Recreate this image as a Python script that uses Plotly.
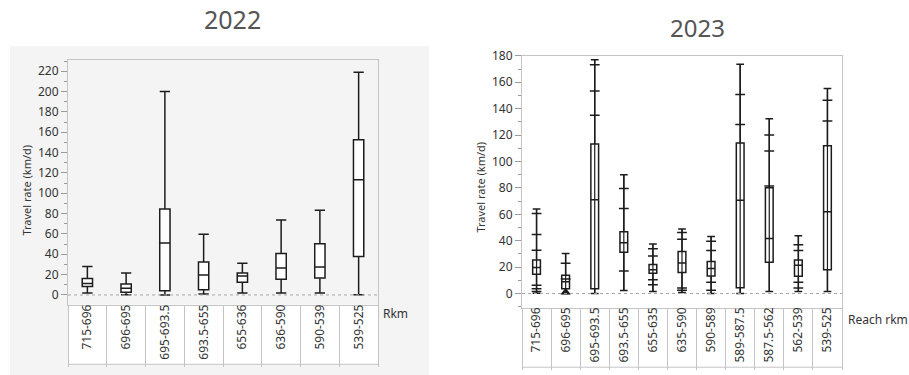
import plotly.graph_objects as go

# ---- travel-rate summaries by reach (km/d) ----
reach_2022 = ["715-696", "696-695", "695-693.5", "693.5-655",
              "655-636", "636-590", "590-539", "539-525"]
low_2022 = [1.9, 0.3, 0.0, 1.0, 1.9, 1.9, 1.9, 0.3]
q1_2022 = [8.3, 2.6, 4.2, 5.1, 12.5, 15.4, 16.7, 37.8]
med_2022 = [11.2, 6.7, 51.0, 19.6, 18.6, 26.6, 27.6, 113.2]
q3_2022 = [16.3, 10.9, 84.6, 32.4, 21.5, 40.7, 50.3, 152.6]
high_2022 = [27.9, 21.5, 200.0, 59.6, 31.1, 73.7, 83.3, 219.0]

reach_2023 = ["715-696", "696-695", "695-693.5", "693.5-655", "655-635",
              "635-590", "590-589", "589-587.5", "587.5-562", "562-539",
              "539-525"]
low_2023 = [0.2, 0.0, 0.0, 2.2, 1.5, 0.7, 0.0, 0.0, 1.5, 1.5, 1.5]
q1_2023 = [14.6, 3.7, 3.7, 31.3, 15.3, 16.0, 13.3, 4.4, 23.7, 13.1, 18.0]
med_2023 = [19.8, 8.9, 71.1, 38.5, 18.0, 23.2, 19.0, 70.6, 41.7, 21.5, 62.0]
q3_2023 = [25.4, 13.8, 113.3, 46.7, 22.0, 31.9, 24.2, 114.0, 80.2, 25.4, 112.0]
high_2023 = [64.0, 30.4, 177.0, 89.9, 37.5, 48.9, 43.2, 173.6, 132.3, 43.7, 155.3]

# individual 2023 observations shown as short dashes on the whiskers
pt_reach_2023 = (["715-696"] * 6 + ["696-695"] * 2 + ["695-693.5"] * 3 +
                 ["693.5-655"] * 3 + ["655-635"] * 4 + ["635-590"] * 4 +
                 ["590-589"] * 4 + ["589-587.5"] * 2 + ["587.5-562"] * 3 +
                 ["562-539"] * 4 + ["539-525"] * 2)
pt_value_2023 = [60.7, 44.7, 32.8, 6.2, 3.7, 1.5,
                 23.0, 11.0,
                 173.3, 153.3, 135.0,
                 79.5, 64.4, 17.0,
                 34.0, 28.4, 10.4, 6.7,
                 46.2, 41.2, 4.2, 2.5,
                 39.5, 32.6, 8.6, 2.5,
                 150.8, 128.0,
                 120.0, 107.9, 81.5,
                 37.0, 32.6, 8.6, 4.2,
                 146.4, 130.6]
# tightly stacked observations near zero
cluster_reach_2023 = ["696-695"]
cluster_value_2023 = [1.0]

W, H = 909, 375
FONT = "Noto Sans, Open Sans, sans-serif"
INK = "#1c1c1c"
FRAME = "#c4c4c4"
TXT = "#333333"


def px_x(p):
    return p / W


def px_y(p):
    return 1 - p / H


# plot-area pixel boxes: (left, right, top, bottom, label-strip bottom)
L = dict(x0=68, x1=378, y0=52, y1=303, yb=364)
R = dict(x0=522, x1=842, y0=48, y1=306, yb=367)

fig = go.Figure()

box_style = dict(line=dict(color=INK, width=1.5), fillcolor="white",
                 whiskerwidth=1, boxpoints=False, showlegend=False,
                 hoverinfo="y")

fig.add_trace(go.Box(x=reach_2022, q1=q1_2022, median=med_2022, q3=q3_2022,
                     lowerfence=low_2022, upperfence=high_2022,
                     xaxis="x", yaxis="y", **box_style))
fig.add_trace(go.Box(x=reach_2023, q1=q1_2023, median=med_2023, q3=q3_2023,
                     lowerfence=low_2023, upperfence=high_2023,
                     xaxis="x2", yaxis="y2", **box_style))

# 2023 whisker line runs through each box
wx, wy = [], []
for r, lo, hi in zip(reach_2023, low_2023, high_2023):
    wx += [r, r, None]
    wy += [lo, hi, None]
fig.add_trace(go.Scatter(x=wx, y=wy, mode="lines", xaxis="x2", yaxis="y2",
                         line=dict(color=INK, width=1.2), showlegend=False,
                         hoverinfo="skip"))

fig.add_trace(go.Scatter(x=pt_reach_2023, y=pt_value_2023, mode="markers",
                         xaxis="x2", yaxis="y2", showlegend=False,
                         marker=dict(symbol="line-ew", size=7,
                                     line=dict(color=INK, width=1.5))))
fig.add_trace(go.Scatter(x=cluster_reach_2023, y=cluster_value_2023,
                         mode="markers", xaxis="x2", yaxis="y2",
                         showlegend=False,
                         marker=dict(symbol="triangle-up", size=9, color=INK,
                                     line=dict(width=0))))


def xaxis_cfg(box, cats):
    return dict(domain=[px_x(box["x0"]), px_x(box["x1"])],
                type="category", categoryorder="array", categoryarray=cats,
                range=[-0.5, len(cats) - 0.5],
                showline=True, linecolor=FRAME, linewidth=1, mirror=True,
                ticks="outside", tickson="boundaries",
                ticklen=box["yb"] - box["y1"], tickcolor=FRAME, tickwidth=1,
                tickangle=-90, ticklabelstandoff=-6,
                tickfont=dict(family=FONT, size=12, color=TXT),
                showgrid=False, zeroline=False, fixedrange=True)


def yaxis_cfg(box, rng, dtick):
    return dict(domain=[px_y(box["y1"]), px_y(box["y0"])], range=rng,
                tick0=0, dtick=dtick, ticks="outside", ticklen=6,
                tickcolor="#9a9a9a", tickwidth=1,
                minor=dict(ticks="outside", ticklen=3, dtick=dtick / 2,
                           tick0=0, tickcolor="#9a9a9a", tickwidth=1),
                showline=True, linecolor=FRAME, linewidth=1, mirror=True,
                tickfont=dict(family=FONT, size=12, color=TXT),
                showgrid=False, zeroline=False, fixedrange=True)


fig.update_layout(
    width=W, height=H, margin=dict(l=0, r=0, t=0, b=0),
    paper_bgcolor="white", plot_bgcolor="white",
    boxgap=0.62, boxmode="overlay", showlegend=False,
    font=dict(family=FONT, color=TXT),
    xaxis=dict(anchor="y", **xaxis_cfg(L, reach_2022)),
    yaxis=dict(anchor="x", **yaxis_cfg(L, [-9.6, 231.3], 20)),
    xaxis2=dict(anchor="y2", **xaxis_cfg(R, reach_2023)),
    yaxis2=dict(anchor="x2", **yaxis_cfg(R, [-10.7, 180.0], 20)),
)

shapes = [
    # light panel behind the 2022 chart
    dict(type="rect", xref="paper", yref="paper", layer="below",
         x0=px_x(10), x1=px_x(429), y0=0, y1=px_y(38),
         fillcolor="#f4f4f4", line=dict(width=0)),
]
for box in (L, R):
    # white category strip under each plot
    shapes.append(dict(type="rect", xref="paper", yref="paper", layer="below",
                       x0=px_x(box["x0"]), x1=px_x(box["x1"]),
                       y0=px_y(box["yb"]), y1=px_y(box["y1"]),
                       fillcolor="white", line=dict(width=0)))
    shapes.append(dict(type="line", xref="paper", yref="paper",
                       x0=px_x(box["x0"]), x1=px_x(box["x1"]),
                       y0=px_y(box["yb"]), y1=px_y(box["yb"]),
                       line=dict(color=FRAME, width=1)))
# dotted zero reference line
for xr, yr in (("x domain", "y"), ("x2 domain", "y2")):
    shapes.append(dict(type="line", xref=xr, yref=yr, x0=0, x1=1, y0=0, y1=0,
                       line=dict(color="#a8a8a8", width=1, dash="dot")))
fig.update_layout(shapes=shapes)

ann = [
    dict(text="2022", x=px_x(232), y=px_y(10), font=dict(size=25, color="#555")),
    dict(text="2023", x=px_x(697), y=px_y(19), font=dict(size=24, color="#555")),
    dict(text="Travel rate (km/d)", x=px_x(27), y=px_y(186), textangle=-90,
         font=dict(size=11, color=TXT)),
    dict(text="Travel rate (km/d)", x=px_x(481), y=px_y(183), textangle=-90,
         font=dict(size=11, color=TXT)),
    dict(text="Rkm", x=px_x(381), y=px_y(312), xanchor="left",
         font=dict(size=12, color=TXT)),
    dict(text="Reach rkm", x=px_x(846), y=px_y(318), xanchor="left",
         font=dict(size=12, color=TXT)),
]
for a in ann:
    a.setdefault("xanchor", "center")
    a.update(xref="paper", yref="paper", yanchor="middle", showarrow=False)
    a["font"]["family"] = FONT
fig.update_layout(annotations=ann)

fig.write_html("out.html")
